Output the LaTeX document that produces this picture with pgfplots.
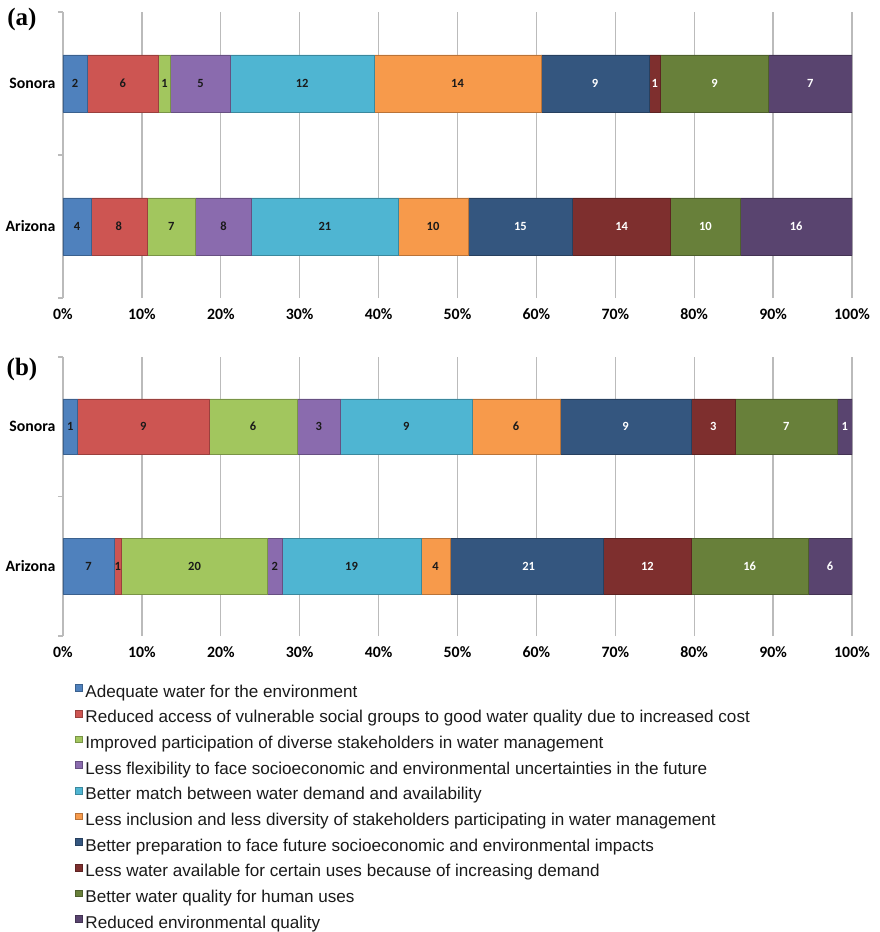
\documentclass[border=0pt]{standalone}
\usepackage{fontspec}
\setmainfont{Liberation Sans}
\newfontfamily\carlito{Carlito}
\newfontfamily\tnr{Liberation Serif}
\usepackage{pgfplots}
\pgfplotsset{compat=1.18}
\definecolor{c1}{HTML}{4F81BD}
\definecolor{c2}{HTML}{CD5552}
\definecolor{c3}{HTML}{A2C65E}
\definecolor{c4}{HTML}{8A6BAE}
\definecolor{c5}{HTML}{4FB5D2}
\definecolor{c6}{HTML}{F79A4B}
\definecolor{c7}{HTML}{34567F}
\definecolor{c8}{HTML}{7E2F2E}
\definecolor{c9}{HTML}{68803A}
\definecolor{c10}{HTML}{59446F}
\definecolor{gridgray}{HTML}{BBBBBB}
\definecolor{dk}{HTML}{1A1A1A}
\pgfplotsset{
  panel/.style={
    scale only axis, width=789pt,
    xmin=0, xmax=100, ymin=-0.5, ymax=1.5,
    xbar stacked, bar width=0.4,
    axis x line*=bottom, axis y line*=left,
    x axis line style={draw=none},
    y axis line style={draw=gridgray, line width=1.3pt},
    xmajorgrids, grid style={draw=gridgray, line width=1.3pt},
    xtick={0,10,...,100},
    xticklabels={0\%,10\%,20\%,30\%,40\%,50\%,60\%,70\%,80\%,90\%,100\%},
    ytick={0,1}, yticklabels={Arizona,Sonora},
    minor ytick={-0.5,0.5,1.5},
    major tick length=0pt, minor tick length=5pt, tick align=outside,
    major tick style={draw=none},
    minor tick style={draw=gridgray, line width=1.3pt},
    tick label style={font=\carlito\bfseries\fontsize{15.8}{16}\selectfont, text=black},
    yticklabel style={xshift=-4pt},
    xticklabel style={yshift=-7.5pt},
  },
  over/.style={
    scale only axis, width=789pt,
    xmin=0, xmax=100, ymin=-0.5, ymax=1.5,
    hide axis, clip=false,
  },
  dlab/.style={draw=none, mark=none, nodes near coords, point meta=explicit symbolic,
    every node near coord/.style={anchor=center, font=\carlito\bfseries\fontsize{12.5}{12.5}\selectfont, text=dk}},
  wlab/.style={draw=none, mark=none, nodes near coords, point meta=explicit symbolic,
    every node near coord/.style={anchor=center, font=\carlito\bfseries\fontsize{12.5}{12.5}\selectfont, text=white}},
  s1/.style={fill=c1, draw=c1!75!black, line width=0.5pt},
  s2/.style={fill=c2, draw=c2!75!black, line width=0.5pt},
  s3/.style={fill=c3, draw=c3!75!black, line width=0.5pt},
  s4/.style={fill=c4, draw=c4!75!black, line width=0.5pt},
  s5/.style={fill=c5, draw=c5!75!black, line width=0.5pt},
  s6/.style={fill=c6, draw=c6!75!black, line width=0.5pt},
  s7/.style={fill=c7, draw=c7!75!black, line width=0.5pt},
  s8/.style={fill=c8, draw=c8!75!black, line width=0.5pt},
  s9/.style={fill=c9, draw=c9!75!black, line width=0.5pt},
  s10/.style={fill=c10, draw=c10!75!black, line width=0.5pt},
}
\begin{document}
\begin{tikzpicture}
\path[use as bounding box] (0pt,0pt) rectangle (880pt,-932pt);
% ---------------- panel (a)
\begin{axis}[panel, height=286pt, at={(63pt,-298pt)}, anchor=south west]
% y=0 Arizona (n=113), y=1 Sonora (n=66); values in percent
\addplot[s1] coordinates {(3.540,0) (3.030,1)};
\addplot[s2] coordinates {(7.080,0) (9.091,1)};
\addplot[s3] coordinates {(6.195,0) (1.515,1)};
\addplot[s4] coordinates {(7.080,0) (7.576,1)};
\addplot[s5] coordinates {(18.584,0) (18.182,1)};
\addplot[s6] coordinates {(8.850,0) (21.212,1)};
\addplot[s7] coordinates {(13.274,0) (13.636,1)};
\addplot[s8] coordinates {(12.389,0) (1.515,1)};
\addplot[s9] coordinates {(8.850,0) (13.636,1)};
\addplot[s10] coordinates {(14.159,0) (10.606,1)};
\end{axis}
\begin{axis}[over, height=286pt, at={(63pt,-298pt)}, anchor=south west]
\addplot[dlab] coordinates {(1.770,0)[4] (7.080,0)[8] (13.717,0)[7] (20.354,0)[8] (33.186,0)[21] (46.903,0)[10]
  (1.515,1)[2] (7.576,1)[6] (12.879,1)[1] (17.424,1)[5] (30.303,1)[12] (50.000,1)[14]};
\addplot[wlab] coordinates {(57.965,0)[15] (70.796,0)[14] (81.416,0)[10] (92.920,0)[16]
  (67.424,1)[9] (75.000,1)[1] (82.576,1)[9] (94.697,1)[7]};
\end{axis}
% ---------------- panel (b)
\begin{axis}[panel, height=279pt, at={(63pt,-636pt)}, anchor=south west,
  legend image code/.code={\fill[#1] (0pt,1.5pt) rectangle (6.5pt,8pt);},
  legend cell align=left,
  legend style={at={(0.0152,-0.172)}, anchor=north west, draw=none, fill=none, inner sep=0pt,
    row sep=8.67pt, font=\fontsize{17.1}{17}\selectfont, text=dk,
    nodes={inner xsep=3pt, inner ysep=0pt, text height=13pt, text depth=4pt},
    every legend image post/.style={}},
  legend style={/tikz/every even column/.append style={column sep=0pt}},
  legend style={nodes={inner xsep=3.3pt}},
]
% y=0 Arizona (n=108), y=1 Sonora (n=54); values in percent
\addplot[s1] coordinates {(6.481,0) (1.852,1)};
\addplot[s2] coordinates {(0.926,0) (16.667,1)};
\addplot[s3] coordinates {(18.519,0) (11.111,1)};
\addplot[s4] coordinates {(1.852,0) (5.556,1)};
\addplot[s5] coordinates {(17.593,0) (16.667,1)};
\addplot[s6] coordinates {(3.704,0) (11.111,1)};
\addplot[s7] coordinates {(19.444,0) (16.667,1)};
\addplot[s8] coordinates {(11.111,0) (5.556,1)};
\addplot[s9] coordinates {(14.815,0) (12.963,1)};
\addplot[s10] coordinates {(5.556,0) (1.852,1)};
\legend{Adequate water for the environment,
Reduced access of vulnerable social groups to good water quality due to increased cost,
Improved participation of diverse stakeholders in water management,
Less flexibility to face socioeconomic and environmental uncertainties in the future,
Better match between water demand and availability,
Less inclusion and less diversity of stakeholders participating in water management,
Better preparation to face future socioeconomic and environmental impacts,
Less water available for certain uses because of increasing demand,
Better water quality for human uses,
Reduced environmental quality}
\end{axis}
\begin{axis}[over, height=279pt, at={(63pt,-636pt)}, anchor=south west]
\addplot[dlab] coordinates {(3.241,0)[7] (6.944,0)[1] (16.667,0)[20] (26.852,0)[2] (36.574,0)[19] (47.222,0)[4]
  (0.926,1)[1] (10.185,1)[9] (24.074,1)[6] (32.407,1)[3] (43.519,1)[9] (57.407,1)[6]};
\addplot[wlab] coordinates {(59.028,0)[21] (74.074,0)[12] (87.037,0)[16] (97.222,0)[6]
  (71.296,1)[9] (82.407,1)[3] (91.667,1)[7] (99.074,1)[1]};
\end{axis}
\node[font=\tnr\bfseries\fontsize{25}{25}\selectfont] at (22pt,-19pt) {(a)};
\node[font=\tnr\bfseries\fontsize{25}{25}\selectfont] at (22pt,-369pt) {(b)};
\end{tikzpicture}
\end{document}
